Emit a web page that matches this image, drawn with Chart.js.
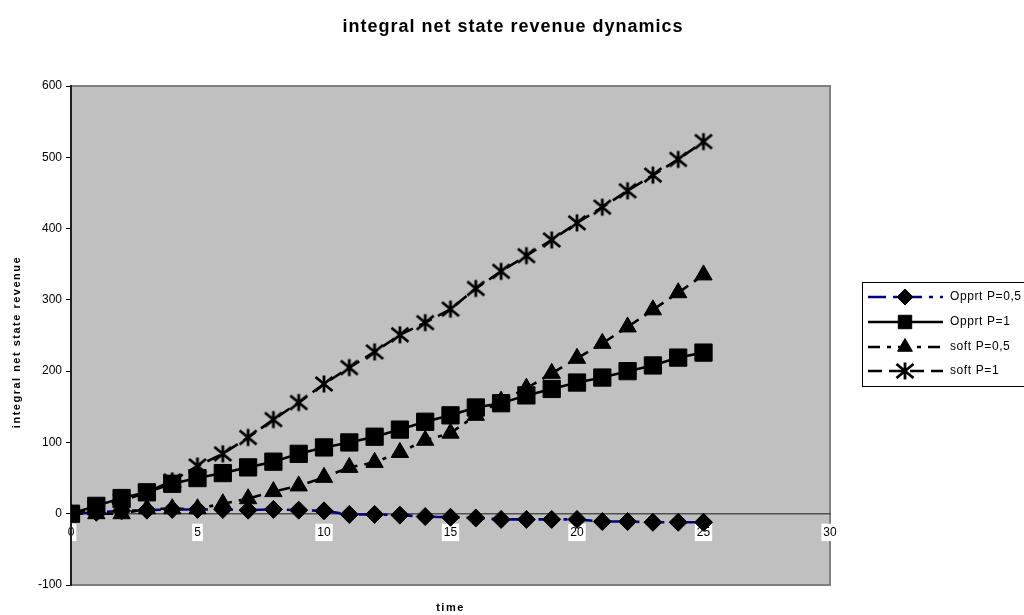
<!DOCTYPE html>
<html>
<head>
<meta charset="utf-8">
<script src="https://cdn.jsdelivr.net/npm/chart.js@4/dist/chart.umd.min.js"></script>
<style>
  html, body { margin: 0; padding: 0; background: #ffffff; }
  #wrap { width: 1024px; height: 615px; }
</style>
</head>
<body>
<div id="wrap"><canvas id="c" width="1024" height="615"></canvas></div>
<script>
// time steps
const time = [0, 1, 2, 3, 4, 5, 6, 7, 8, 9, 10, 11, 12, 13, 14, 15, 16, 17, 18, 19, 20, 21, 22, 23, 24, 25];

// integral net state revenue per scenario
const opprtHalf = [0, 2, 4, 5, 6, 6, 6, 5, 6, 5, 4, -1, -1, -2, -4, -5, -6, -8, -8, -8, -8, -11, -11, -12, -12, -12];
const opprtFull = [0, 11, 22, 30, 42, 50, 57, 65, 73, 84, 93, 100, 108, 118, 129, 138, 149, 155, 166, 175, 184, 191, 200, 208, 219, 226];
const softHalf  = [0, 0, 0, 7, 7, 7, 14, 21, 31, 39, 51, 65, 72, 86, 103, 113, 138, 158, 176, 197, 218, 239, 262, 286, 310, 335];
const softFull  = [0, 8, 18, 30, 46, 67, 84, 107, 132, 156, 182, 205, 227, 251, 268, 287, 316, 340, 362, 384, 408, 430, 453, 475, 497, 522];

const seriesNames = ['Opprt P=0,5', 'Opprt P=1', 'soft P=0,5', 'soft P=1'];

// axis ranges
const yMin = -100, yMax = 600, yStep = 100;
const xMin = 0, xMax = 30, xStep = 5;

const titleText = 'integral net state revenue dynamics';
const yTitleText = 'integral net state revenue';
const xTitleText = 'time';

// asterisk marker: vertical stroke plus an X
function makeAsterisk() {
  const cv = document.createElement('canvas');
  cv.width = 20; cv.height = 20;
  const g = cv.getContext('2d');
  g.strokeStyle = '#000';
  g.lineWidth = 2.8;
  g.lineCap = 'butt';
  g.beginPath();
  g.moveTo(10, 1.5); g.lineTo(10, 18.5);
  g.moveTo(1.5, 3); g.lineTo(18.5, 17);
  g.moveTo(18.5, 3); g.lineTo(1.5, 17);
  g.stroke();
  return cv;
}
const asterisk = makeAsterisk();

const toXY = vals => vals.map((v, i) => ({ x: time[i], y: v }));

const datasets = [
  {
    label: seriesNames[0], data: toXY(opprtHalf),
    borderColor: '#000080', borderWidth: 2.6, borderDash: [18, 7, 4, 7],
    pointStyle: 'rectRot', pointRadius: 9, pointBackgroundColor: '#000', pointBorderColor: '#000', pointBorderWidth: 1,
    order: 4
  },
  {
    label: seriesNames[1], data: toXY(opprtFull),
    borderColor: '#000', borderWidth: 2.6, borderDash: [],
    pointStyle: 'rect', pointRadius: 12.2, pointBackgroundColor: '#000', pointBorderColor: '#000', pointBorderWidth: 1,
    order: 3
  },
  {
    label: seriesNames[2], data: toXY(softHalf),
    borderColor: '#000', borderWidth: 2.6, borderDash: [12, 7, 4, 7],
    pointStyle: 'triangle', pointRadius: 10, pointBackgroundColor: '#000', pointBorderColor: '#000', pointBorderWidth: 1,
    order: 2
  },
  {
    label: seriesNames[3], data: toXY(softFull),
    borderColor: '#000', borderWidth: 2.6, borderDash: [14, 7],
    pointStyle: asterisk, pointRadius: 9, pointBackgroundColor: '#000', pointBorderColor: '#000',
    order: 1
  }
];

function spacedText(ctx, text, x, y, spacing) {
  ctx.letterSpacing = spacing + 'px';
  ctx.fillText(text, x, y);
  ctx.letterSpacing = '0px';
}

// plot background, frame, titles and legend
const decorations = {
  id: 'decorations',
  beforeDraw(chart) {
    const { ctx, chartArea: a } = chart;
    ctx.save();
    ctx.fillStyle = '#c0c0c0';
    ctx.fillRect(a.left, a.top, a.right - a.left, a.bottom - a.top);
    ctx.strokeStyle = '#808080';
    ctx.lineWidth = 2;
    ctx.beginPath();
    ctx.moveTo(a.left, a.top); ctx.lineTo(a.right, a.top);
    ctx.lineTo(a.right, a.bottom); ctx.lineTo(a.left, a.bottom);
    ctx.stroke();
    ctx.restore();
  },
  afterDraw(chart) {
    const { ctx, chartArea: a } = chart;
    ctx.save();
    ctx.fillStyle = '#000';
    ctx.textAlign = 'center';
    ctx.textBaseline = 'middle';

    ctx.font = 'bold 18px Arial, "Liberation Sans", sans-serif';
    spacedText(ctx, titleText, 513, 27, 1);

    ctx.font = 'bold 11px Arial, "Liberation Sans", sans-serif';
    spacedText(ctx, xTitleText, (a.left + a.right) / 2, 608, 1.5);

    ctx.save();
    ctx.translate(17, 342);
    ctx.rotate(-Math.PI / 2);
    spacedText(ctx, yTitleText, 0, 0, 1.5);
    ctx.restore();

    // legend
    const lx = 862, ly = 282, lh = 104;
    ctx.fillStyle = '#fff';
    ctx.fillRect(lx, ly, 200, lh);
    ctx.strokeStyle = '#000';
    ctx.lineWidth = 1;
    ctx.strokeRect(lx + 0.5, ly + 0.5, 200, lh);
    const rowY = [297, 322, 347, 371];
    datasets.forEach((ds, i) => {
      const y = rowY[i];
      ctx.save();
      ctx.strokeStyle = ds.borderColor;
      ctx.lineWidth = ds.borderWidth;
      ctx.setLineDash(ds.borderDash);
      ctx.beginPath();
      ctx.moveTo(868, y); ctx.lineTo(943, y);
      ctx.stroke();
      ctx.setLineDash([]);
      ctx.fillStyle = '#000';
      ctx.strokeStyle = '#000';
      ctx.lineWidth = 1;
      Chart.helpers.drawPoint(ctx, {
        pointStyle: ds.pointStyle,
        radius: ds.pointStyle === 'rect' ? 9.5 : (ds.pointStyle === 'triangle' ? 8.5 : 8),
        rotation: 0, borderWidth: 1
      }, 905, y);
      ctx.restore();
      ctx.fillStyle = '#000';
      ctx.textAlign = 'left';
      ctx.font = '12px Arial, "Liberation Sans", sans-serif';
      spacedText(ctx, ds.label, 950, y, 0.6);
    });
    ctx.restore();
  }
};

new Chart(document.getElementById('c'), {
  type: 'line',
  data: { datasets },
  plugins: [decorations],
  options: {
    responsive: false,
    animation: false,
    devicePixelRatio: 1,
    layout: { padding: { top: 86, right: 194, bottom: 30, left: 0 } },
    elements: { line: { tension: 0, fill: false } },
    plugins: { legend: { display: false }, tooltip: { enabled: false }, title: { display: false } },
    scales: {
      x: {
        type: 'linear',
        min: xMin, max: xMax,
        position: { y: 0 },
        grid: { display: true, drawOnChartArea: false, drawTicks: false, color: 'transparent' },
        border: { display: true, color: '#505050', width: 1.5 },
        ticks: {
          stepSize: xStep,
          padding: 12,
          color: '#000',
          font: { family: 'Arial, "Liberation Sans", sans-serif', size: 12 },
          showLabelBackdrop: true,
          backdropColor: '#ffffff',
          backdropPadding: { top: 2, bottom: 1, left: 2, right: 2 },
          maxRotation: 0
        }
      },
      y: {
        type: 'linear',
        min: yMin, max: yMax,
        afterFit(scale) { scale.width = 71; },
        grid: { display: true, drawOnChartArea: false, drawTicks: true, tickLength: 5, color: '#000', tickWidth: 1 },
        border: { display: true, color: '#202020', width: 2 },
        ticks: {
          stepSize: yStep,
          padding: 4,
          color: '#000',
          font: { family: 'Arial, "Liberation Sans", sans-serif', size: 12 }
        }
      }
    }
  }
});
</script>
</body>
</html>
